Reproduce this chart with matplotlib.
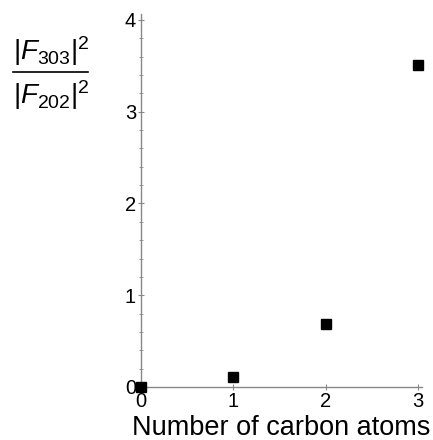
import matplotlib
matplotlib.use("Agg")
import matplotlib.pyplot as plt
from matplotlib.lines import Line2D
from matplotlib.ticker import MultipleLocator

plt.rcParams["font.family"] = "Liberation Sans"
plt.rcParams["mathtext.fontset"] = "custom"
plt.rcParams["mathtext.rm"] = "Liberation Sans"
plt.rcParams["mathtext.it"] = "Liberation Sans:italic"

# data
carbon_atoms = [0, 1, 2, 3]
intensity_ratio = [0.0, 0.11, 0.69, 3.51]
x_ticks = [0, 1, 2, 3]
y_ticks = [0, 1, 2, 3, 4]

fig = plt.figure(figsize=(4.33, 4.40), dpi=100)
ax = fig.add_axes([0.3256, 0.1205, 0.649, 0.8466])

ax.plot(carbon_atoms, intensity_ratio, ls="none", marker="s", ms=7,
        color="black", clip_on=False, zorder=5)

ax.set_xlim(0, 3.04)
ax.set_ylim(0, 4.06)

for side in ("top", "right"):
    ax.spines[side].set_visible(False)
for side in ("left", "bottom"):
    ax.spines[side].set_color("#888888")
    ax.spines[side].set_linewidth(1)

ax.set_xticks(x_ticks)
ax.set_yticks(y_ticks)
ax.yaxis.set_minor_locator(MultipleLocator(0.2))
ax.tick_params(axis="both", which="major", direction="inout", length=5,
               color="#888888", labelsize=14.5, pad=1)
ax.tick_params(axis="y", which="minor", direction="inout", length=3,
               color="#888888")

ax.set_xlabel("Number of carbon atoms", fontsize=19.5, labelpad=3)

# y label drawn as a fraction: numerator, bar, denominator
fig.text(51 / 433, 1 - 60 / 440, r"$|F_{303}|^2$", fontsize=20,
         ha="center", va="baseline")
fig.text(51 / 433, 1 - 104 / 440, r"$|F_{202}|^2$", fontsize=20,
         ha="center", va="baseline")
fig.add_artist(Line2D([13 / 433, 88 / 433], [1 - 72 / 440, 1 - 72 / 440],
                      color="black", lw=1.2))

fig.savefig("out.png", dpi=100)
